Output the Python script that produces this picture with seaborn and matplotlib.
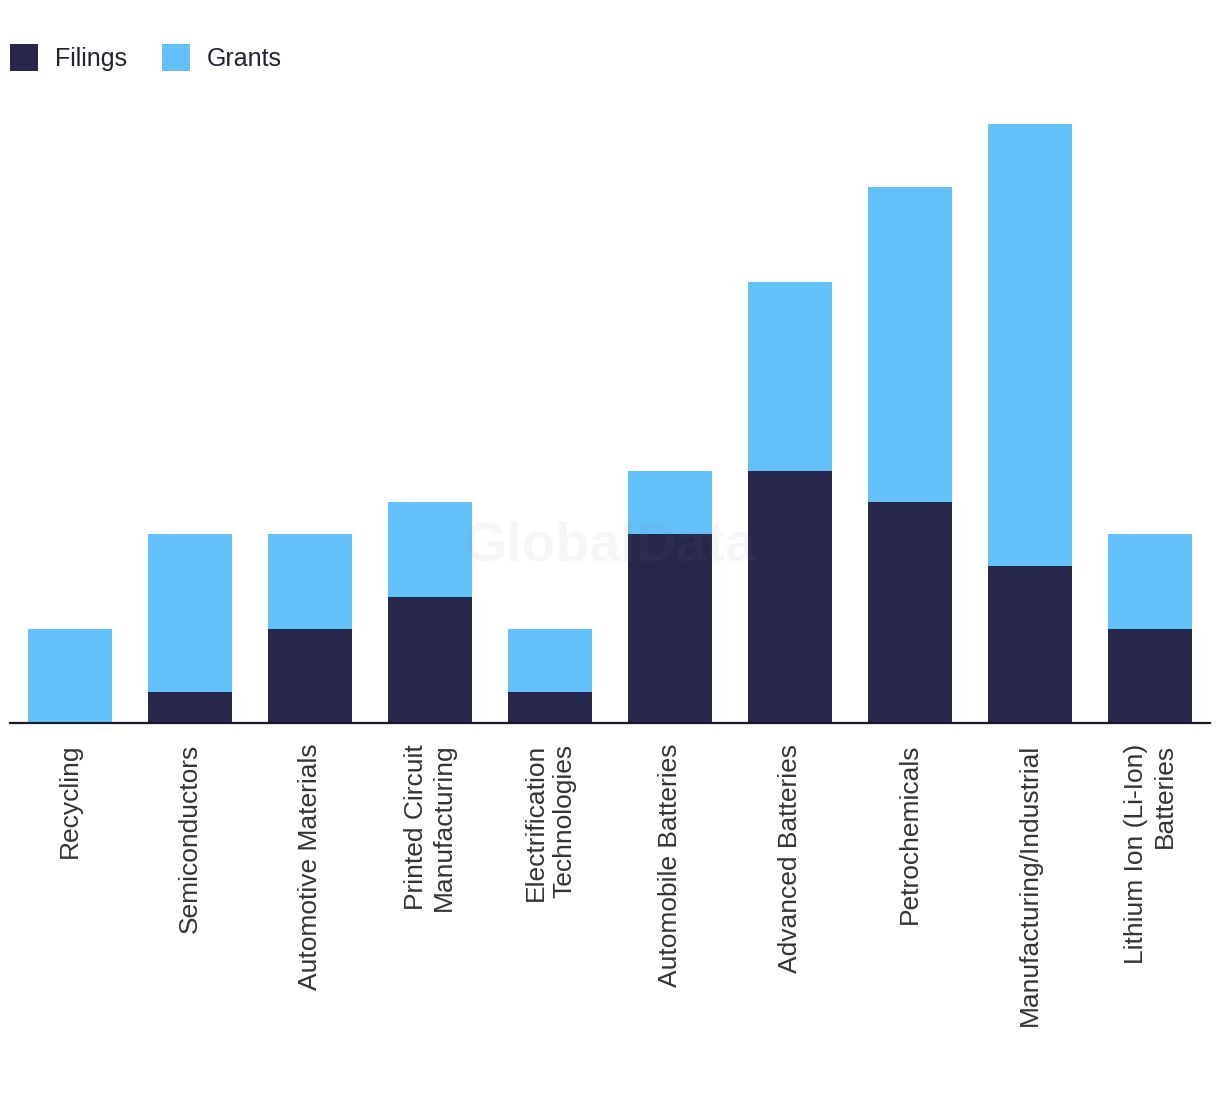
import matplotlib
matplotlib.use("Agg")
import matplotlib.pyplot as plt
import seaborn as sns
import pandas as pd
from matplotlib.patches import Patch

categories = ["Recycling", "Semiconductors", "Automotive Materials",
              "Printed Circuit\nManufacturing", "Electrification\nTechnologies",
              "Automobile Batteries", "Advanced Batteries", "Petrochemicals",
              "Manufacturing/Industrial", "Lithium Ion (Li-Ion)\nBatteries"]
filings = [0, 1, 3, 4, 1, 6, 8, 7, 5, 3]
grants = [3, 5, 3, 3, 2, 2, 6, 10, 14, 3]

NAVY = "#27274B"
BLUE = "#62C1F9"

df = pd.DataFrame({"category": categories, "filings": filings, "grants": grants})
df["total"] = df["filings"] + df["grants"]

sns.set_theme(style="white")
plt.rcParams["font.family"] = ["Liberation Sans", "DejaVu Sans"]

fig = plt.figure(figsize=(12.2, 10.94), dpi=100)
ax = fig.add_axes([10/1220, (1094-723)/1094, 1200/1220, (723-93)/1094])

sns.barplot(data=df, x="category", y="total", color=BLUE, width=0.7,
            saturation=1, ax=ax, linewidth=0)
sns.barplot(data=df, x="category", y="filings", color=NAVY, width=0.7,
            saturation=1, ax=ax, linewidth=0)

ax.set_xlim(-0.5, len(categories) - 0.5)
ax.set_ylim(0, 20)
ax.set_xlabel("")
ax.set_ylabel("")
ax.set_yticks([])
for s in ["top", "right", "left"]:
    ax.spines[s].set_visible(False)
ax.spines["bottom"].set_color("#1a1a2e")
ax.spines["bottom"].set_linewidth(1.6)
ax.tick_params(axis="x", length=0, pad=15, labelsize=19, colors="#333333")
for lbl in ax.get_xticklabels():
    lbl.set_rotation(90)
    lbl.set_ha("center")
    lbl.set_va("top")
    lbl.set_multialignment("right")
    lbl.set_linespacing(1.25)

ax.text(0.5, 0.28, "GlobalData", transform=ax.transAxes, ha="center", va="center",
        fontsize=40, fontweight="bold", color="#888888", alpha=0.07, zorder=5)

handles = [Patch(facecolor=NAVY, edgecolor="none", label="Filings"),
           Patch(facecolor=BLUE, edgecolor="none", label="Grants")]
fig.legend(handles=handles, loc="upper left", bbox_to_anchor=(10/1220, 1 - 44/1094),
           ncol=2, frameon=False, fontsize=18, handlelength=1.12, handleheight=1.3,
           handletextpad=0.68, columnspacing=1.4, labelcolor="#222233",
           borderpad=0, borderaxespad=0)

fig.savefig("out.png", dpi=100, facecolor="white")
